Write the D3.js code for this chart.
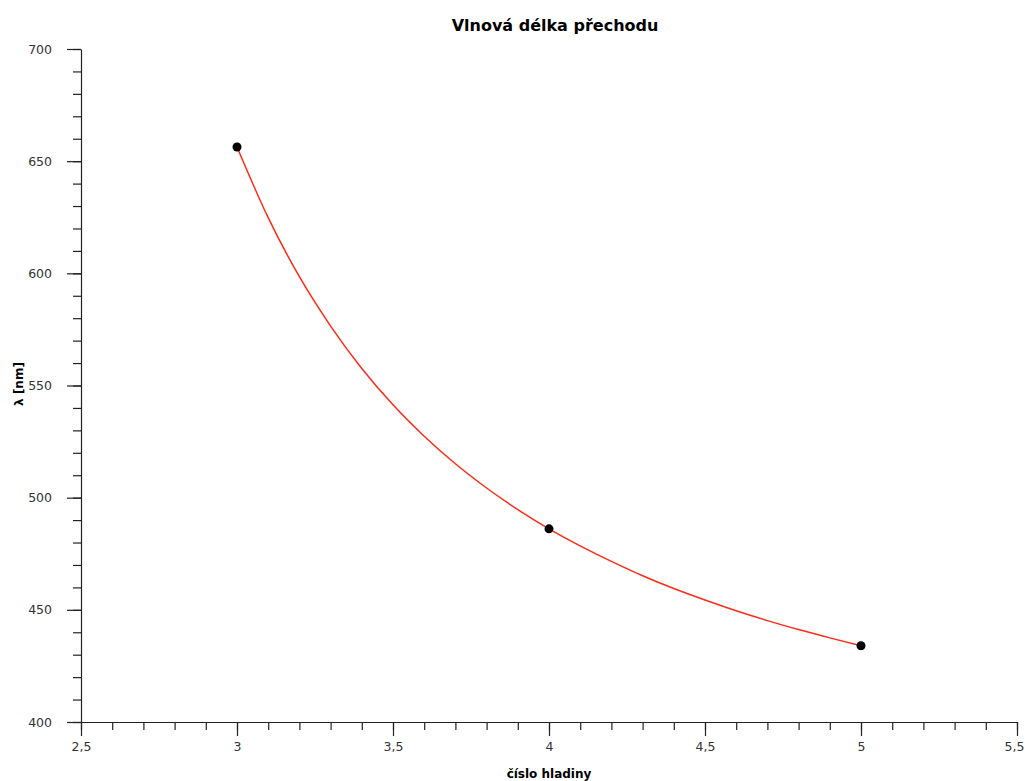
<!DOCTYPE html>
<html>
<head>
<meta charset="utf-8">
<script src="https://cdn.jsdelivr.net/npm/d3@7"></script>
<style>
    body { margin: 0; background: #fff; }
    text { font-family: "DejaVu Sans", Verdana, sans-serif; }
</style>
</head>
<body>
<script>
// measured points (transition wavelengths)
var levels = [3, 4, 5];
var lambdas = [656.3, 486.1, 434.0];

// fitted curve
var curveX = [3.0, 3.1, 3.2, 3.3, 3.4, 3.5, 3.6, 3.7, 3.8, 3.9, 4.0,
              4.1, 4.2, 4.3, 4.4, 4.5, 4.6, 4.7, 4.8, 4.9, 5.0];
var curveY = [656.3, 624.8, 598.5, 576.5, 557.6, 541.4, 527.4, 515.1, 504.3, 494.7, 486.1,
              478.5, 471.6, 465.2, 459.5, 454.4, 449.6, 445.2, 441.2, 437.5, 434.0];

var xTicks = [2.5, 3, 3.5, 4, 4.5, 5, 5.5];
var yTicks = [400, 450, 500, 550, 600, 650, 700];

window.onload = function () {
    var w = 1025, h = 781;

    var x = d3.scaleLinear().domain([2.5, 5.5]).range([81, 1017]);
    var y = d3.scaleLinear().domain([400, 700]).range([722, 49]);

    var fmt = function (d) { return String(d).replace(".", ","); };

    var svg = d3.select("body").append("svg")
        .attr("width", w)
        .attr("height", h);

    // minor ticks
    var xMinor = d3.range(25, 56).map(function (d) { return d / 10; });
    var yMinor = d3.range(400, 701, 10);

    svg.append("g")
        .attr("transform", "translate(0,722)")
        .call(d3.axisBottom(x).tickValues(xMinor).tickSize(8).tickFormat(""))
        .call(function (g) { g.select(".domain").remove(); });

    svg.append("g")
        .attr("transform", "translate(81,0)")
        .call(d3.axisLeft(y).tickValues(yMinor).tickSize(8).tickFormat(""))
        .call(function (g) { g.select(".domain").remove(); });

    // major axes
    var xAxis = svg.append("g")
        .attr("transform", "translate(0,722)")
        .call(d3.axisBottom(x).tickValues(xTicks).tickSize(14).tickSizeOuter(0).tickPadding(6).tickFormat(fmt));

    svg.append("g")
        .attr("transform", "translate(81,0)")
        .call(d3.axisLeft(y).tickValues(yTicks).tickSize(14).tickSizeOuter(0).tickPadding(15).tickFormat(fmt));

    svg.selectAll(".tick line, .domain").attr("stroke", "#222").attr("stroke-width", 1.2);
    svg.selectAll(".tick text")
        .attr("fill", "#333")
        .style("font-size", "12.5px")
        .style("font-family", "'DejaVu Sans', Verdana, sans-serif");

    // keep the last x label inside the page
    xAxis.selectAll(".tick text")
        .filter(function (d) { return d === 5.5; })
        .attr("dx", -3);

    // fitted line
    var line = d3.line()
        .x(function (d) { return x(d[0]); })
        .y(function (d) { return y(d[1]); })
        .curve(d3.curveMonotoneX);

    svg.append("path")
        .datum(d3.zip(curveX, curveY))
        .attr("d", line)
        .attr("fill", "none")
        .attr("stroke", "#ff2a17")
        .attr("stroke-width", 1.5);

    // points
    svg.selectAll(".pt")
        .data(d3.zip(levels, lambdas))
        .enter()
        .append("circle")
        .attr("class", "pt")
        .attr("cx", function (d) { return x(d[0]); })
        .attr("cy", function (d) { return y(d[1]); })
        .attr("r", 4.5)
        .attr("fill", "#000");

    // title and labels
    svg.append("text")
        .attr("x", 555)
        .attr("y", 31)
        .attr("text-anchor", "middle")
        .style("font-size", "16px")
        .style("font-weight", "bold")
        .text("Vlnová délka přechodu");

    svg.append("text")
        .attr("x", 549)
        .attr("y", 778)
        .attr("text-anchor", "middle")
        .style("font-size", "12px")
        .style("font-weight", "bold")
        .text("číslo hladiny");

    svg.append("text")
        .attr("transform", "translate(23,384) rotate(-90)")
        .attr("text-anchor", "middle")
        .style("font-size", "12px")
        .style("font-weight", "bold")
        .text("λ [nm]");
};
</script>
</body>
</html>
